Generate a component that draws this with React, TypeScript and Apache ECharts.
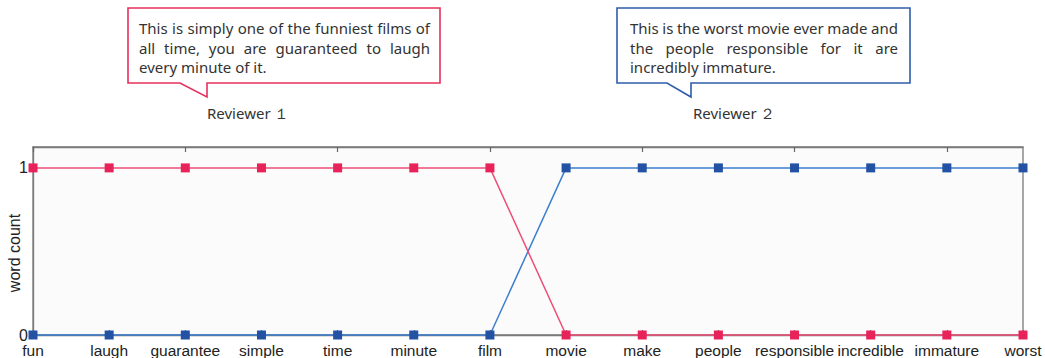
import React, { useEffect, useRef } from "react";
import * as echarts from "echarts";

const categories = ["fun", "laugh", "guarantee", "simple", "time", "minute", "film", "movie", "make", "people", "responsible", "incredible", "immature", "worst"];
const reviewer1 = [1, 1, 1, 1, 1, 1, 1, 0, 0, 0, 0, 0, 0, 0];
const reviewer2 = [0, 0, 0, 0, 0, 0, 0, 1, 1, 1, 1, 1, 1, 1];
const yTickLabels = ["0", "1"];
const yAxisTitle = "word count";
const review1Lines = ["This is simply one of the funniest films of", "all time, you are guaranteed to laugh", "every minute of it."];
const review2Lines = ["This is the worst movie ever made and", "the people responsible for it are", "incredibly immature."];
const reviewerNames = ["Reviewer \uFF11", "Reviewer \uFF12"];

const RED = "#e8305c";
const BLUE = "#2f5dab";
const TEXT_FONT = '15px "Noto Sans"';

function justifiedLines(lines: string[], left: number, right: number, top: number, lh: number) {
  const ctx = document.createElement("canvas").getContext("2d")!;
  ctx.font = TEXT_FONT;
  const els: any[] = [];
  lines.forEach((line, li) => {
    const y = top + li * lh;
    const words = line.split(" ");
    const isLast = li === lines.length - 1;
    const widths = words.map((w) => ctx.measureText(w).width);
    const total = widths.reduce((a, b) => a + b, 0);
    const gap = isLast || words.length < 2 ? ctx.measureText(" ").width : (right - left - total) / (words.length - 1);
    let x = left;
    words.forEach((w, i) => {
      els.push({
        type: "text",
        x,
        y,
        z: 10,
        style: { text: w, font: TEXT_FONT, fill: "#333333", align: "left", verticalAlign: "middle" },
      });
      x += widths[i] + gap;
    });
  });
  return els;
}

function callout(x0: number, y0: number, x1: number, y1: number, tailL: number, tip: number, tipY: number, color: string) {
  return {
    type: "polygon",
    z: 5,
    shape: {
      points: [
        [x0, y0],
        [x1, y0],
        [x1, y1],
        [tip, y1],
        [tip, tipY],
        [tailL, y1],
        [x0, y1],
      ],
    },
    style: { fill: "#ffffff", stroke: color, lineWidth: 1.6 },
  };
}

export default function App() {
  const ref = useRef<HTMLDivElement>(null);
  useEffect(() => {
    const chart = echarts.init(ref.current!, null, { renderer: "svg" });
    const graphics: any[] = [
      callout(128, 8, 440, 83, 180, 207, 97, RED),
      callout(617, 8, 910, 83, 667, 691, 97, BLUE),
      ...justifiedLines(review1Lines, 139, 430, 28, 19.5),
      ...justifiedLines(review2Lines, 630, 898, 28, 19.5),
      {
        type: "text",
        x: 207,
        y: 113,
        style: { text: reviewerNames[0], font: TEXT_FONT, fill: "#333333", align: "left", verticalAlign: "middle" },
      },
      {
        type: "text",
        x: 693,
        y: 113,
        style: { text: reviewerNames[1], font: TEXT_FONT, fill: "#333333", align: "left", verticalAlign: "middle" },
      },
      {
        type: "text",
        x: 14,
        y: 253,
        rotation: Math.PI / 2,
        style: { text: yAxisTitle, font: '16px "Liberation Sans"', fill: "#222222", align: "center", verticalAlign: "middle" },
      },
    ];
    const tickCommon = {
      show: true,
      inside: true,
      length: 5,
      alignWithLabel: true,
      lineStyle: { color: "#666666", width: 1.2 },
    };
    chart.setOption({
      animation: false,
      grid: {
        left: 33,
        right: 22,
        top: 147,
        bottom: 23,
        containLabel: false,
        outerBoundsMode: "none",
        show: true,
        backgroundColor: "#fbfbfb",
        borderColor: "#7a7a7a",
        borderWidth: 1.3,
      },
      xAxis: [
        {
          type: "category",
          data: categories,
          boundaryGap: false,
          position: "bottom",
          axisLine: { show: true, lineStyle: { color: "#7a7a7a", width: 1.3 } },
          axisTick: tickCommon,
          axisLabel: { color: "#222222", fontSize: 15.5, fontFamily: "Liberation Sans", margin: 7, interval: 0, hideOverlap: false },
          splitLine: { show: false },
        },
        {
          type: "category",
          data: categories,
          boundaryGap: false,
          position: "top",
          axisLine: { show: true, lineStyle: { color: "#7a7a7a", width: 1.3 } },
          axisTick: tickCommon,
          axisLabel: { show: false },
          splitLine: { show: false },
        },
      ],
      yAxis: {
        type: "value",
        min: 0,
        max: 1.125,
        interval: 1,
        axisLine: { show: true, lineStyle: { color: "#7a7a7a", width: 1.3 } },
        axisTick: { show: false },
        splitLine: { show: false },
        axisLabel: {
          color: "#222222",
          fontSize: 16,
          fontFamily: "Liberation Sans",
          margin: 5,
          formatter: (v: number) => (yTickLabels.includes(String(v)) ? String(v) : ""),
        },
      },
      series: [
        {
          name: "Reviewer 2",
          type: "line",
          data: reviewer2,
          symbol: "rect",
          symbolSize: 9,
          clip: false,
          lineStyle: { color: "#3d7fcf", width: 1.5 },
          itemStyle: { color: "#2352a5" },
          z: 3,
        },
        {
          name: "Reviewer 1",
          type: "line",
          data: reviewer1,
          symbol: "rect",
          symbolSize: 9,
          clip: false,
          lineStyle: { color: "#ee4d76", width: 1.5 },
          itemStyle: { color: "#e8235a" },
          z: 4,
        },
      ],
      graphic: graphics,
    });
    return () => chart.dispose();
  }, []);
  return <div ref={ref} style={{ width: 1045, height: 358, position: "absolute", left: 0, top: 0 }} />;
}
